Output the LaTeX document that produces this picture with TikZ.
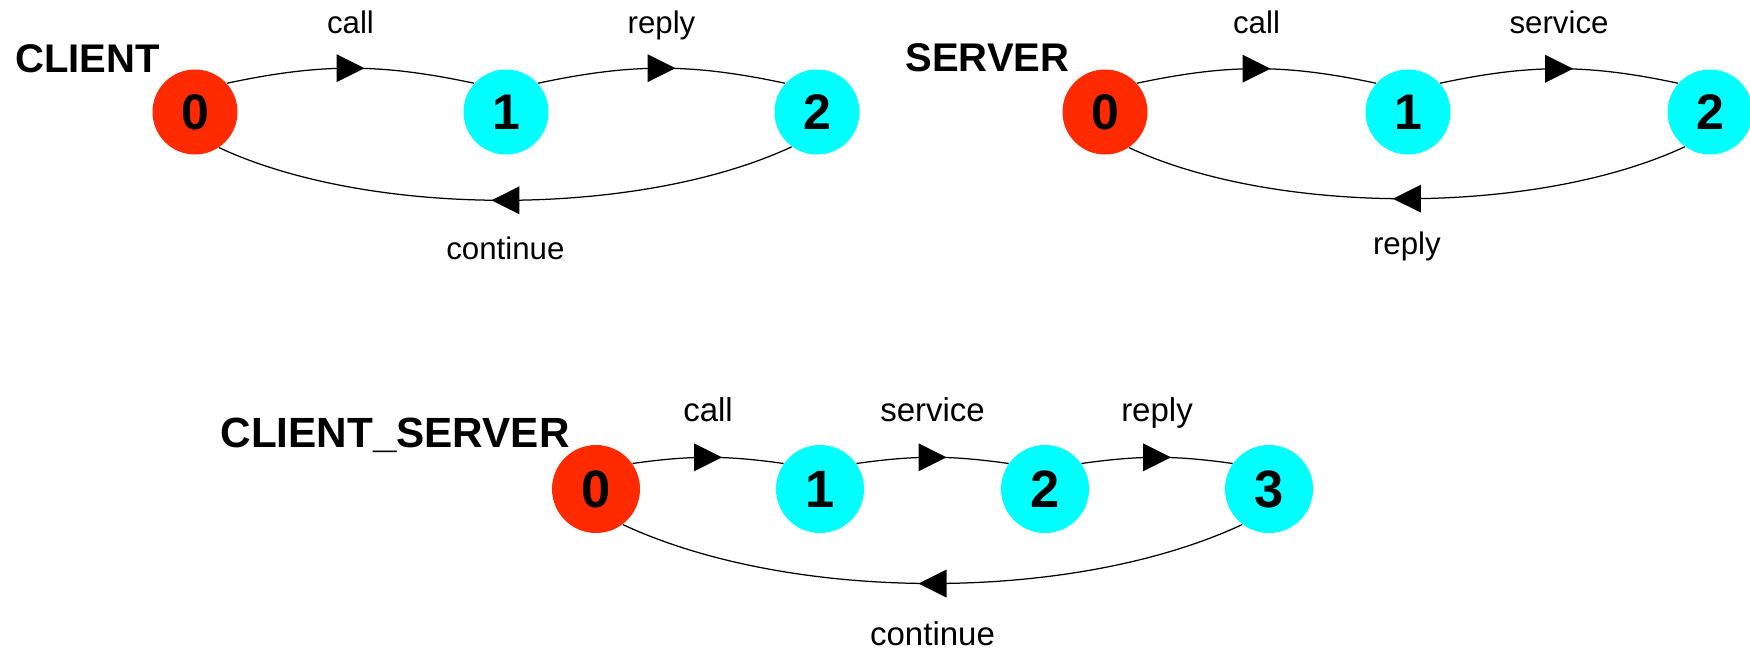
\documentclass[tikz,border=0pt]{standalone}
\usepackage{fontspec}
\setmainfont{Liberation Sans}
\usepackage{xcolor}
\usetikzlibrary{decorations.markings}
\definecolor{initred}{HTML}{FF2A00}
\definecolor{statecyan}{HTML}{00FFFF}

\begin{document}
\begin{tikzpicture}[x = .4pt, y = .4pt,
  statenode/.style = {circle, minimum size = 34pt, inner sep = 0pt, fill = statecyan, font = \fontsize{20}{20}\selectfont\bfseries},
  initnode/.style = {statenode, fill = initred},
  bignode/.style = {minimum size = 35.2pt, font = \fontsize{21}{21}\selectfont\bfseries},
  title/.style = {anchor = base west, inner sep = 0pt, font = \fontsize{#1}{#1}\selectfont\bfseries},
  title/.default = 16,
  lbl/.style = {anchor = base, inner sep = 0pt, font = \fontsize{#1}{#1}\selectfont},
  lbl/.default = 12.5,
  trans/.style = {line width = .5pt, postaction = {decorate},
    decoration = {markings, mark = at position .5 with {\fill (-5.6pt,-5.6pt) -- (5.6pt,0pt) -- (-5.6pt,5.6pt) -- cycle;}}}]
\useasboundingbox (0,0) rectangle (1750,649);
\node[title] (client) at (15,577) {CLIENT};
\node[initnode] (c0) at (195,537) {0};
\node[statenode] (c1) at (506,537) {1};
\node[statenode] (c2) at (817,537) {2};
\draw[trans] (c0.42) to[out=12, in=168] node[lbl, yshift=14pt] {call} (c1.138);
\draw[trans] (c1.42) to[out=12, in=168] node[lbl, yshift=14pt] {reply} (c2.138);
\draw[trans] (c2.-126) to[out=-155, in=-25, looseness=.75] node[lbl, yshift=-23.6pt] {continue} (c0.-56);

\node[title] (server) at (905,578) {SERVER};
\node[initnode] (s0) at (1105,537) {0};
\node[statenode] (s1) at (1408,537) {1};
\node[statenode] (s2) at (1710,537) {2};
\draw[trans] (s0.42) to[out=12, in=168] node[lbl, yshift=14pt] {call} (s1.138);
\draw[trans] (s1.42) to[out=12, in=168] node[lbl, yshift=14pt] {service} (s2.138);
\draw[trans] (s2.-126) to[out=-155, in=-25, looseness=.75] node[lbl, yshift=-22.4pt] {reply} (s0.-56);

\node[title=16.9] (clientserver) at (220,202) {CLIENT\_SERVER};
\node[initnode, bignode] (cs0) at (596,160) {0};
\node[statenode, bignode] (cs1) at (820,160) {1};
\node[statenode, bignode] (cs2) at (1045,160) {2};
\node[statenode, bignode] (cs3) at (1269,160) {3};
\draw[trans] (cs0.35) to[out=8, in=172] node[lbl=13.2, yshift=14.4pt] {call} (cs1.145);
\draw[trans] (cs1.35) to[out=8, in=172] node[lbl=13.2, yshift=14.4pt] {service} (cs2.145);
\draw[trans] (cs2.35) to[out=8, in=172] node[lbl=13.2, yshift=14.4pt] {reply} (cs3.145);
\draw[trans] (cs3.-127) to[out=-155, in=-25, looseness=.77] node[lbl=13.2, yshift=-24.6pt] {continue} (cs0.-53);
\end{tikzpicture}
\end{document}
